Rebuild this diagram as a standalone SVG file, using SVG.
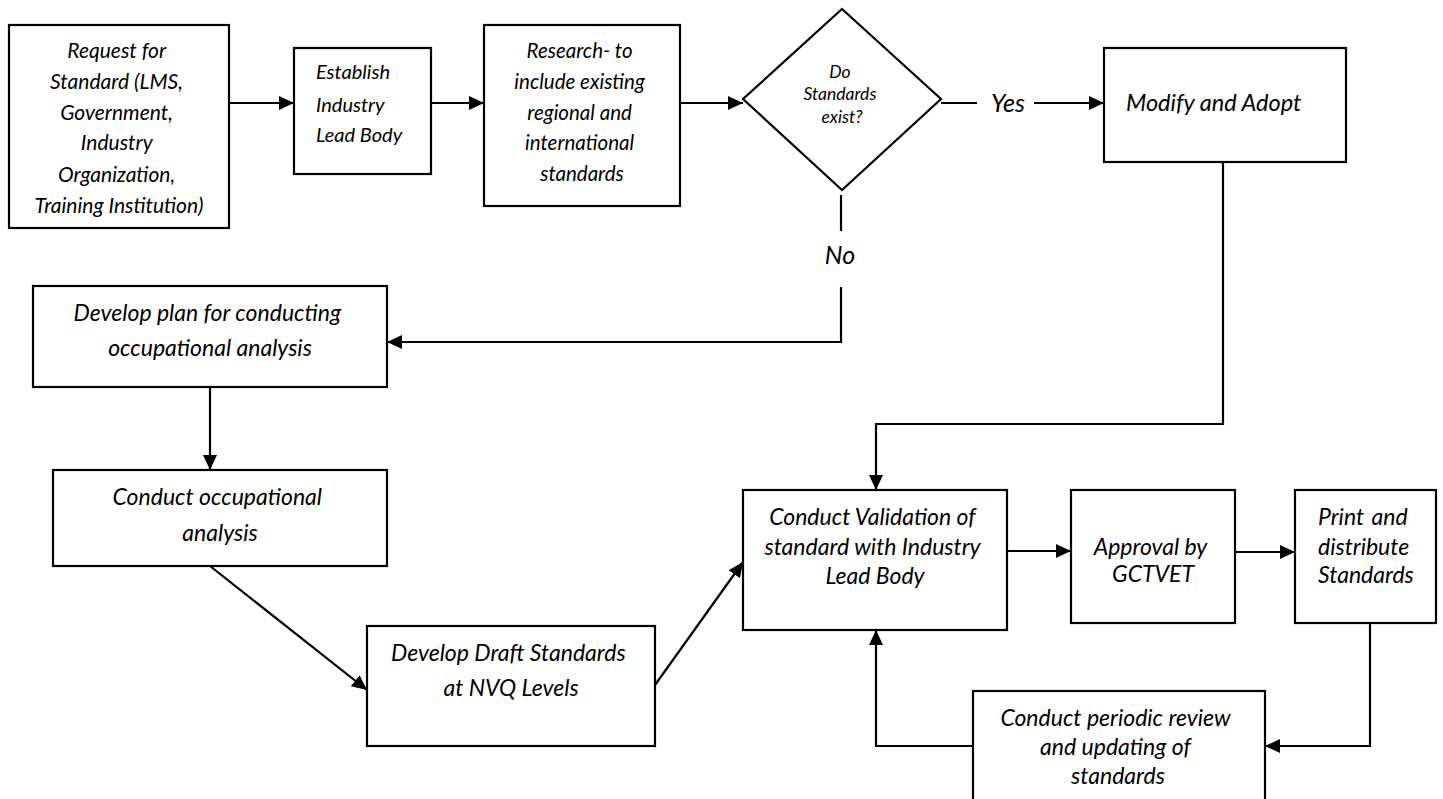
<svg xmlns="http://www.w3.org/2000/svg" width="1443" height="799" viewBox="0 0 1443 799">
<style>
  .box { fill: #ffffff; stroke: #000000; stroke-width: 2.2; }
  .ln { fill: none; stroke: #000000; stroke-width: 2.2; }
  .t { font-family: Lato, "Open Sans", "Liberation Sans", sans-serif; font-style: italic; fill: #000000; }
  .c { text-anchor: middle; }
</style>
<defs>
  <marker id="ah" markerUnits="userSpaceOnUse" markerWidth="16" markerHeight="14" refX="15" refY="7" orient="auto">
    <path d="M0,0 L15,7 L0,14 z" fill="#000000"/>
  </marker>
</defs>
<rect width="1443" height="799" fill="#ffffff"/>

<g id="connectors">
  <line class="ln" x1="229" y1="103" x2="294" y2="103" marker-end="url(#ah)"/>
  <line class="ln" x1="431" y1="103" x2="484" y2="103" marker-end="url(#ah)"/>
  <line class="ln" x1="680" y1="103" x2="743" y2="103" marker-end="url(#ah)"/>
  <line class="ln" x1="941" y1="103" x2="977" y2="103"/>
  <line class="ln" x1="1034" y1="103" x2="1104" y2="103" marker-end="url(#ah)"/>
  <line class="ln" x1="841" y1="195" x2="841" y2="231"/>
  <polyline class="ln" points="841,287 841,342 387,342" marker-end="url(#ah)"/>
  <line class="ln" x1="210" y1="383" x2="210" y2="470" marker-end="url(#ah)"/>
  <line class="ln" x1="210" y1="566" x2="367" y2="690" marker-end="url(#ah)"/>
  <line class="ln" x1="655" y1="685" x2="743" y2="562" marker-end="url(#ah)"/>
  <polyline class="ln" points="1223,162 1223,424 876,424 876,490" marker-end="url(#ah)"/>
  <line class="ln" x1="1007" y1="551" x2="1071" y2="551" marker-end="url(#ah)"/>
  <line class="ln" x1="1235" y1="552" x2="1295" y2="552" marker-end="url(#ah)"/>
  <polyline class="ln" points="1370,619 1370,746 1265,746" marker-end="url(#ah)"/>
  <polyline class="ln" points="973,746 876,746 876,630" marker-end="url(#ah)"/>
  <text class="t c" x="1008" y="112" font-size="25">Yes</text>
  <text class="t c" x="840" y="264" font-size="25">No</text>
</g>

<g id="request">
  <rect class="box" x="9" y="25" width="220" height="203"/>
  <text class="t c" font-size="21">
    <tspan x="119" y="58">Request for</tspan>
    <tspan x="119" y="89">Standard (LMS,</tspan>
    <tspan x="119" y="120">Government,</tspan>
    <tspan x="119" y="150">Industry</tspan>
    <tspan x="119" y="182">Organization,</tspan>
    <tspan x="119" y="213">Training Institution)</tspan>
  </text>
</g>

<g id="establish">
  <rect class="box" x="294" y="48" width="137" height="126"/>
  <text class="t" font-size="20">
    <tspan x="316" y="79">Establish</tspan>
    <tspan x="316" y="112">Industry</tspan>
    <tspan x="316" y="142">Lead Body</tspan>
  </text>
</g>

<g id="research">
  <rect class="box" x="484" y="25" width="196" height="181"/>
  <text class="t c" font-size="20.5">
    <tspan x="582" y="58">Research- to</tspan>
    <tspan x="582" y="89">include existing</tspan>
    <tspan x="582" y="120">regional and</tspan>
    <tspan x="582" y="150">international</tspan>
    <tspan x="582" y="181">standards</tspan>
  </text>
</g>

<g id="decision">
  <polygon class="box" points="842,9 941,99 842,190 743,99"/>
  <text class="t c" font-size="17.5">
    <tspan x="842" y="78">Do</tspan>
    <tspan x="842" y="100">Standards</tspan>
    <tspan x="842" y="123">exist?</tspan>
  </text>
</g>

<g id="modify">
  <rect class="box" x="1104" y="48" width="242" height="114"/>
  <text class="t" font-size="23.5" x="1126" y="111">Modify and Adopt</text>
</g>

<g id="plan">
  <rect class="box" x="33" y="286" width="354" height="101"/>
  <text class="t c" font-size="23">
    <tspan x="210" y="321">Develop plan for conducting</tspan>
    <tspan x="210" y="356">occupational analysis</tspan>
  </text>
</g>

<g id="analysis">
  <rect class="box" x="53" y="470" width="334" height="96"/>
  <text class="t c" font-size="23">
    <tspan x="220" y="505">Conduct occupational</tspan>
    <tspan x="220" y="541">analysis</tspan>
  </text>
</g>

<g id="draft">
  <rect class="box" x="367" y="626" width="288" height="120"/>
  <text class="t c" font-size="23">
    <tspan x="511" y="661">Develop Draft Standards</tspan>
    <tspan x="511" y="696">at NVQ Levels</tspan>
  </text>
</g>

<g id="validation">
  <rect class="box" x="743" y="490" width="264" height="140"/>
  <text class="t c" font-size="23">
    <tspan x="875" y="525">Conduct Validation of</tspan>
    <tspan x="875" y="555">standard with Industry</tspan>
    <tspan x="875" y="584">Lead Body</tspan>
  </text>
</g>

<g id="approval">
  <rect class="box" x="1071" y="490" width="164" height="133"/>
  <text class="t c" font-size="23">
    <tspan x="1153" y="555">Approval by</tspan>
    <tspan x="1153" y="582">GCTVET</tspan>
  </text>
</g>

<g id="print">
  <rect class="box" x="1295" y="490" width="141" height="133"/>
  <text class="t" font-size="23">
    <tspan x="1318" y="525">Print</tspan><tspan x="1413" y="525" text-anchor="end">and</tspan>
    <tspan x="1318" y="555">distribute</tspan>
    <tspan x="1318" y="583">Standards</tspan>
  </text>
</g>

<g id="review">
  <rect class="box" x="973" y="691" width="292" height="130"/>
  <text class="t c" font-size="23">
    <tspan x="1118" y="726">Conduct periodic review</tspan>
    <tspan x="1118" y="755">and updating of</tspan>
    <tspan x="1118" y="784">standards</tspan>
  </text>
</g>
</svg>
